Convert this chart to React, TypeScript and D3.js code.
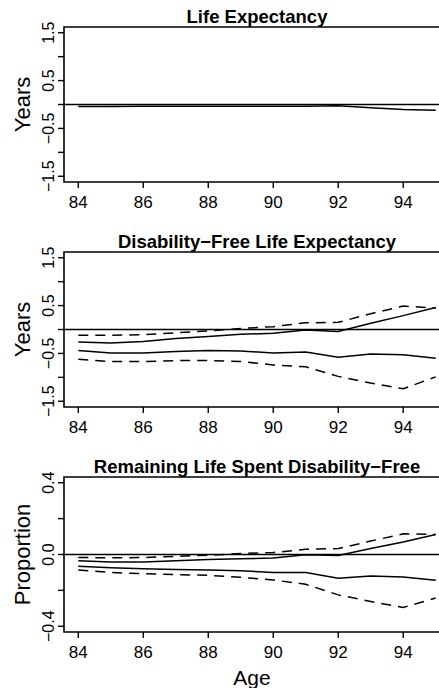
import React from "react";
import * as d3 from "d3";

const ages = [84, 85, 86, 87, 88, 89, 90, 91, 92, 93, 94, 95];
const xTicks = [84, 86, 88, 90, 92, 94];

// Panel 1: Life Expectancy
const leEst = [-0.04, -0.04, -0.035, -0.035, -0.035, -0.035, -0.035, -0.035, -0.025, -0.07, -0.105, -0.12];

// Panel 2: Disability-Free Life Expectancy
const dfleUpperCI = [-0.12, -0.12, -0.11, -0.07, -0.03, 0.02, 0.06, 0.14, 0.15, 0.33, 0.49, 0.45];
const dfleUpper = [-0.26, -0.28, -0.25, -0.19, -0.145, -0.1, -0.08, -0.01, -0.04, 0.13, 0.29, 0.46];
const dfleLower = [-0.44, -0.49, -0.49, -0.46, -0.44, -0.45, -0.49, -0.47, -0.58, -0.51, -0.53, -0.6];
const dfleLowerCI = [-0.62, -0.67, -0.67, -0.65, -0.65, -0.67, -0.74, -0.78, -0.98, -1.12, -1.24, -0.99];

// Panel 3: Remaining Life Spent Disability-Free
const propUpperCI = [-0.017, -0.018, -0.017, -0.01, -0.004, 0.005, 0.011, 0.029, 0.033, 0.075, 0.115, 0.112];
const propUpper = [-0.035, -0.042, -0.042, -0.035, -0.028, -0.024, -0.02, -0.002, -0.006, 0.033, 0.07, 0.112];
const propLower = [-0.065, -0.074, -0.08, -0.083, -0.087, -0.09, -0.1, -0.101, -0.133, -0.12, -0.125, -0.144];
const propLowerCI = [-0.087, -0.1, -0.107, -0.112, -0.116, -0.127, -0.142, -0.166, -0.225, -0.262, -0.295, -0.243];

const yearTicks = [-1.5, -1, -0.5, 0, 0.5, 1, 1.5];
const yearLabels = ["-1.5", "-0.5", "0.5", "1.5"];
const propTicks = [-0.4, -0.2, 0, 0.2, 0.4];
const propLabels = ["-0.4", "0.0", "0.4"];

const FONT = "'Liberation Sans', Arial, Helvetica, sans-serif";

type Series = { values: number[]; dashed: boolean };

type PanelProps = {
  top: number;
  title: string;
  ylabel: string;
  yDomain: [number, number];
  ticks: number[];
  labels: string[];
  fmt: (v: number) => string;
  series: Series[];
  xlabel?: string;
};

const LEFT = 64;
const RIGHT = 450;
const H = 155;

function Panel({ top, title, ylabel, yDomain, ticks, labels, fmt, series, xlabel }: PanelProps) {
  const x = d3.scaleLinear().domain([83.56, 95.44]).range([LEFT, RIGHT]);
  const y = d3.scaleLinear().domain(yDomain).range([top + H, top]);
  const line = d3
    .line<number>()
    .x((_, i) => x(ages[i]))
    .y((v) => y(v));
  const bottom = top + H;
  const mid = top + H / 2;
  return (
    <g>
      <text
        x={257}
        y={top - 11}
        textAnchor="middle"
        dominantBaseline="central"
        fontFamily={FONT}
        fontWeight="bold"
        fontSize={18.5}
      >
        {title}
      </text>
      <path
        d={`M${RIGHT + 5},${top}H${LEFT}V${bottom}H${RIGHT + 5}`}
        fill="none"
        stroke="#000"
        strokeWidth={1.6}
      />
      <line x1={LEFT} x2={RIGHT} y1={y(0)} y2={y(0)} stroke="#000" strokeWidth={1.5} />
      {ticks.map((t) => (
        <line key={"yt" + t} x1={LEFT - 6} x2={LEFT} y1={y(t)} y2={y(t)} stroke="#000" strokeWidth={1.4} />
      ))}
      {ticks
        .filter((t) => labels.includes(fmt(t)))
        .map((t) => (
          <text
            key={"yl" + t}
            transform={`translate(48,${y(t)}) rotate(-90)`}
            textAnchor="middle"
            dominantBaseline="central"
            fontFamily={FONT}
            fontSize={16}
          >
            {fmt(t).replace("-", "\u2212")}
          </text>
        ))}
      {xTicks.map((t) => (
        <g key={"xt" + t}>
          <line x1={x(t)} x2={x(t)} y1={bottom} y2={bottom + 6} stroke="#000" strokeWidth={1.4} />
          <text
            x={x(t)}
            y={bottom + 20}
            textAnchor="middle"
            dominantBaseline="central"
            fontFamily={FONT}
            fontSize={17}
          >
            {t}
          </text>
        </g>
      ))}
      <text
        transform={`translate(22,${mid}) rotate(-90)`}
        textAnchor="middle"
        dominantBaseline="central"
        fontFamily={FONT}
        fontSize={22}
      >
        {ylabel}
      </text>
      {xlabel && (
        <text
          x={252}
          y={bottom + 45}
          textAnchor="middle"
          dominantBaseline="central"
          fontFamily={FONT}
          fontSize={21}
        >
          {xlabel}
        </text>
      )}
      {series.map((s, i) => (
        <path
          key={"s" + i}
          d={line(s.values) || ""}
          fill="none"
          stroke="#000"
          strokeWidth={1.5}
          strokeDasharray={s.dashed ? "10,7" : undefined}
        />
      ))}
    </g>
  );
}

const fmtYears = (v: number) => (Math.abs(v - Math.round(v)) < 1e-9 ? String(v) : v.toFixed(1));
const fmtProp = (v: number) => v.toFixed(1);

export default function App() {
  return (
    <svg
      width={439}
      height={688}
      style={{ position: "absolute", left: 0, top: 0, background: "#fff" }}
    >
      <Panel
        top={27}
        title="Life Expectancy"
        ylabel="Years"
        yDomain={[-1.62, 1.62]}
        ticks={yearTicks}
        labels={yearLabels}
        fmt={fmtYears}
        series={[{ values: leEst, dashed: false }]}
      />
      <Panel
        top={252}
        title={"Disability\u2212Free Life Expectancy"}
        ylabel="Years"
        yDomain={[-1.62, 1.62]}
        ticks={yearTicks}
        labels={yearLabels}
        fmt={fmtYears}
        series={[
          { values: dfleUpperCI, dashed: true },
          { values: dfleUpper, dashed: false },
          { values: dfleLower, dashed: false },
          { values: dfleLowerCI, dashed: true },
        ]}
      />
      <Panel
        top={477}
        title={"Remaining Life Spent Disability\u2212Free"}
        ylabel="Proportion"
        yDomain={[-0.432, 0.432]}
        ticks={propTicks}
        labels={propLabels}
        fmt={fmtProp}
        series={[
          { values: propUpperCI, dashed: true },
          { values: propUpper, dashed: false },
          { values: propLower, dashed: false },
          { values: propLowerCI, dashed: true },
        ]}
        xlabel="Age"
      />
    </svg>
  );
}
